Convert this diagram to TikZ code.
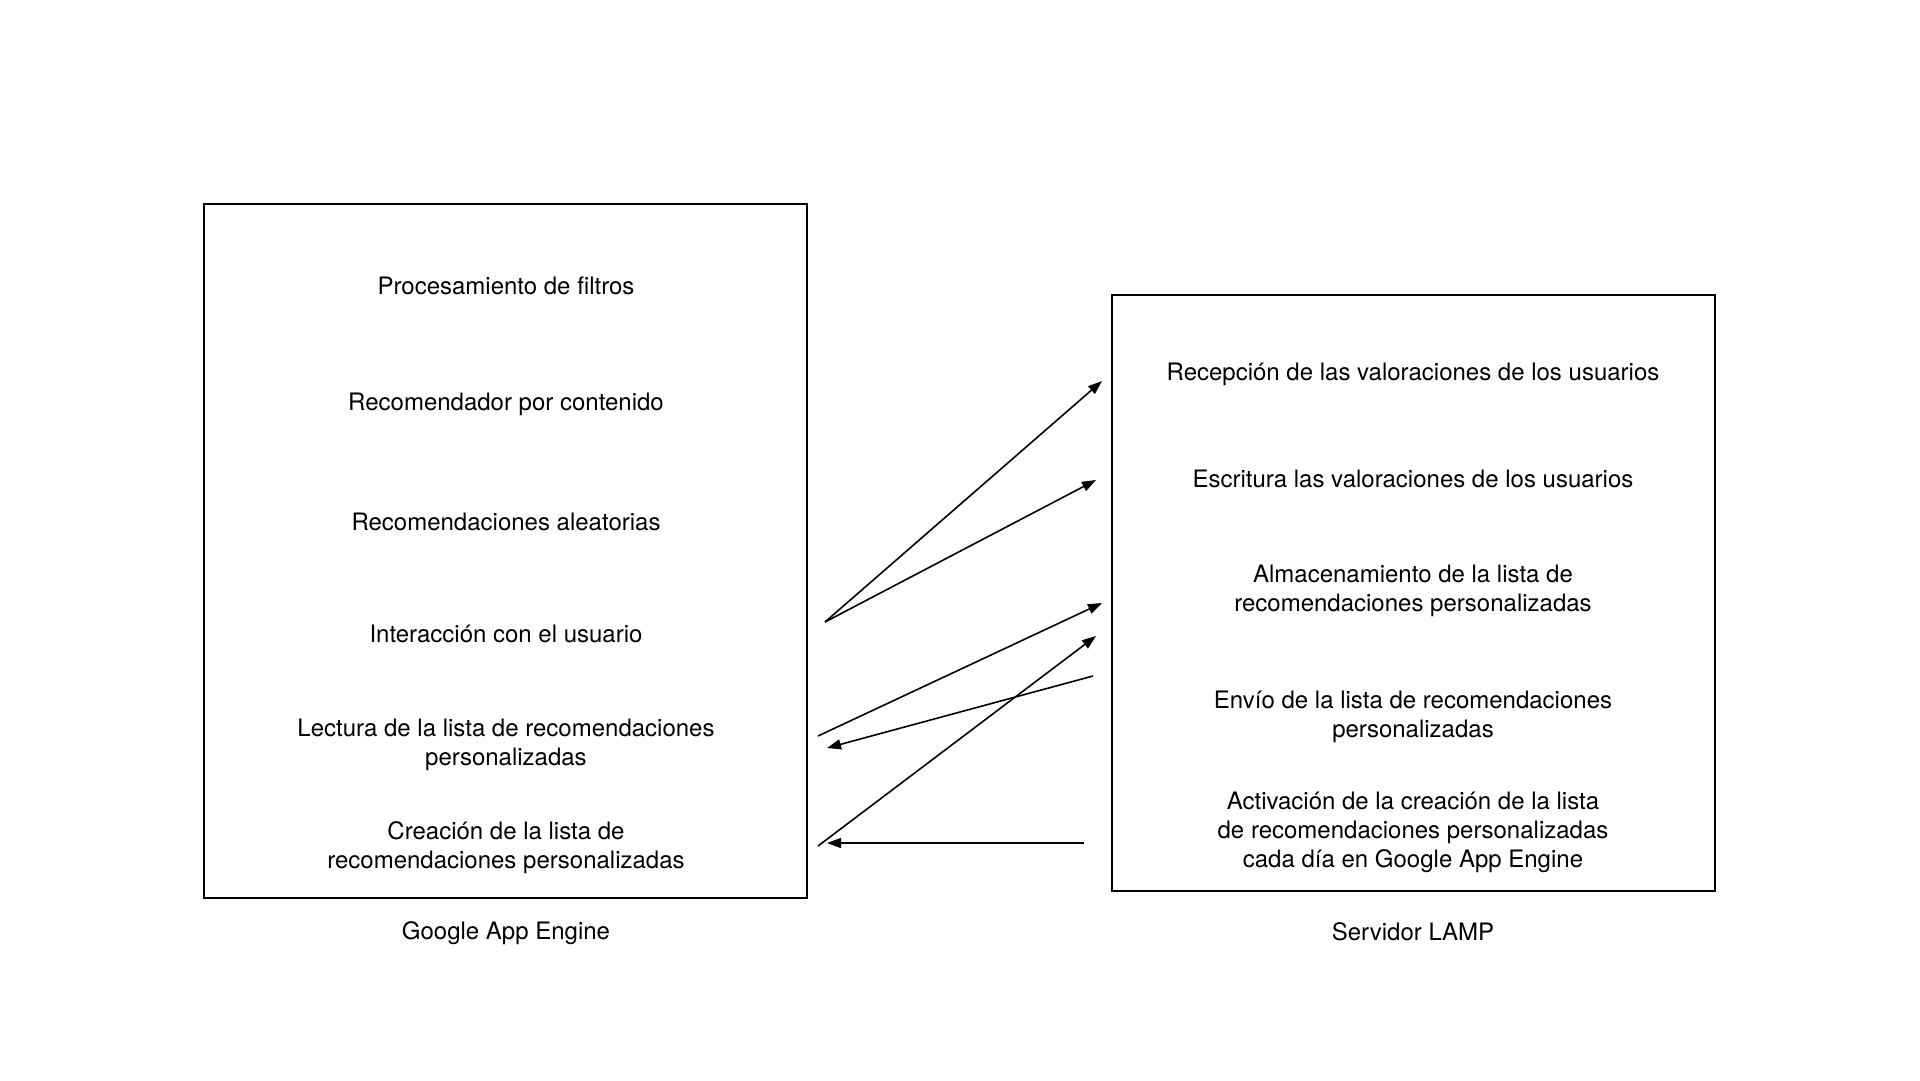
\documentclass[tikz,border=0pt]{standalone}
\usepackage{fontspec}
\setmainfont{TeX Gyre Heros}
\usetikzlibrary{arrows.meta}
\tikzset{%
  server/.style  = {shape=rectangle, draw, line width=2.6pt,%
                    minimum width=603pt, inner sep=0pt},%
  caption/.style = {align=center, font=\fontsize{24}{29}\selectfont},%
  task/.style    = {caption, yshift=-2.5pt},%
  flow/.style    = {-{Triangle[length=14pt,width=10pt]}, line width=1.6pt}%
}

\begin{document}
\begin{tikzpicture}[x=1pt,y=-1pt]
		\useasboundingbox (0,0) rectangle (1920,1080);
		% Google App Engine
		\node [server, minimum height=694pt] (gae) at (505.5,551) {};
		\node [task] (filtros)    at (506,283) {Procesamiento de filtros};
		\node [task] (contenido)  at (506,402) {Recomendador por contenido};
		\node [task] (aleatorias) at (506,519) {Recomendaciones aleatorias};
		\node [task] (interaccion) at (506,631) {Interacción con el usuario};
		\node [task] (lectura)    at (506,742) {Lectura de la lista de recomendaciones\\personalizadas};
		\node [task] (creacion)   at (506,845) {Creación de la lista de\\recomendaciones personalizadas};
		\node [caption] (gaename) at (506,933) {Google App Engine};
		% Servidor LAMP
		\node [server, minimum height=596pt] (lamp) at (1413.5,593) {};
		\node [task] (recepcion)  at (1413,372) {Recepción de las valoraciones de los usuarios};
		\node [task] (escritura)  at (1413,476) {Escritura las valoraciones de los usuarios};
		\node [task] (almacen)    at (1413,588) {Almacenamiento de la lista de\\recomendaciones personalizadas};
		\node [task] (envio)      at (1413,714) {Envío de la lista de recomendaciones\\personalizadas};
		\node [task] (activacion) at (1413,830) {Activación de la creación de la lista\\de recomendaciones personalizadas\\cada día en Google App Engine};
		\node [caption] (lampname) at (1413,932) {Servidor LAMP};
		% ends of the arrows
		\coordinate (interaccion-out) at (825,622);
		\coordinate (lectura-out)     at (818,736);
		\coordinate (lectura-in)      at (827,748);
		\coordinate (creacion-out)    at (818,846);
		\coordinate (creacion-in)     at (827,843);
		\coordinate (recepcion-in)    at (1102,381);
		\coordinate (escritura-in)    at (1096,480);
		\coordinate (almacen-in)      at (1102,603);
		\coordinate (envio-out)       at (1093,676);
		\coordinate (activa-in)       at (1096,636);
		\coordinate (activa-out)      at (1084,843);
		\draw [flow] (interaccion-out) -- (recepcion-in);
		\draw [flow] (interaccion-out) -- (escritura-in);
		\draw [flow] (lectura-out) -- (almacen-in);
		\draw [flow] (envio-out) -- (lectura-in);
		\draw [flow] (creacion-out) -- (activa-in);
		\draw [flow] (activa-out) -- (creacion-in);
	\end{tikzpicture}
\end{document}
